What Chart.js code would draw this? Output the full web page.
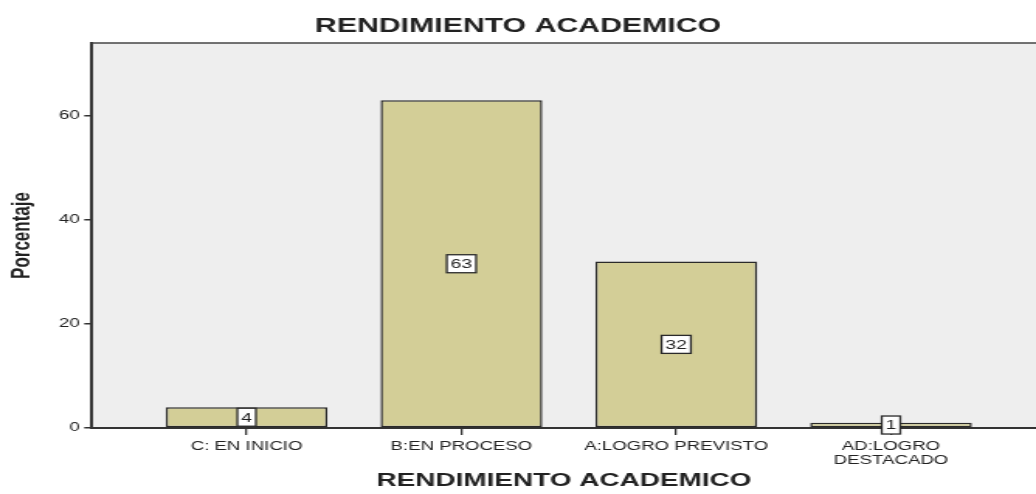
<!DOCTYPE html>
<html>
<head>
<meta charset="utf-8">
<script src="https://cdn.jsdelivr.net/npm/chart.js@4.4.1/dist/chart.umd.min.js"></script>
<style>
    html, body { margin: 0; padding: 0; background: #fff; overflow: hidden; }
    /* the original picture is stretched sideways, so draw narrow and stretch the canvas */
    #chart { display: block; transform: scaleX(1.5509); transform-origin: 0 0; }
</style>
</head>
<body>
<canvas id="chart" width="668" height="494"></canvas>
<script>
// Data
const categories = ['C: EN INICIO', 'B:EN PROCESO', 'A:LOGRO PREVISTO', 'AD:LOGRO DESTACADO'];
const tickLabels = ['C: EN INICIO', 'B:EN PROCESO', 'A:LOGRO PREVISTO', ['AD:LOGRO', 'DESTACADO']];
const percentages = [4, 63, 32, 1];
const yTicks = [0, 20, 40, 60];

const FONT = "'Liberation Sans', Arial, sans-serif";
const INK = '#222';

// Grey plot background and the top frame line
const plotFrame = {
    id: 'plotFrame',
    beforeDraw(chart) {
        const { ctx, chartArea: a } = chart;
        ctx.save();
        ctx.fillStyle = '#eeeeee';
        ctx.fillRect(a.left, a.top, a.right - a.left, a.bottom - a.top);
        ctx.restore();
    },
    afterDraw(chart) {
        const { ctx, chartArea: a } = chart;
        ctx.save();
        ctx.strokeStyle = '#444';
        ctx.lineWidth = 1.6;
        ctx.beginPath();
        ctx.moveTo(a.left, a.top);
        ctx.lineTo(a.right, a.top);
        ctx.stroke();
        ctx.restore();
    }
};

// White boxed value labels in the middle of each bar
const boxLabels = {
    id: 'boxLabels',
    afterDatasetsDraw(chart) {
        const { ctx } = chart;
        const meta = chart.getDatasetMeta(0);
        ctx.save();
        ctx.font = '12.5px ' + FONT;
        ctx.textAlign = 'center';
        ctx.textBaseline = 'middle';
        meta.data.forEach((bar, i) => {
            const text = String(percentages[i]);
            const w = ctx.measureText(text).width + 5;
            const h = 18;
            const cx = bar.x;
            const cy = (bar.y + bar.base) / 2;
            ctx.fillStyle = '#fff';
            ctx.fillRect(cx - w / 2, cy - h / 2, w, h);
            ctx.strokeStyle = '#2a2a2a';
            ctx.lineWidth = 1.3;
            ctx.strokeRect(cx - w / 2, cy - h / 2, w, h);
            ctx.fillStyle = INK;
            ctx.fillText(text, cx, cy + 1);
        });
        ctx.restore();
    }
};

const ctx = document.getElementById('chart').getContext('2d');

new Chart(ctx, {
    type: 'bar',
    data: {
        datasets: [{
            label: 'Porcentaje',
            data: percentages.map((v, i) => ({ x: i + 1, y: v })),
            backgroundColor: '#d3ce97',
            borderColor: '#2a2a2a',
            borderWidth: 1.5,
            borderSkipped: false,
            categoryPercentage: 1,
            barPercentage: 0.753
        }]
    },
    options: {
        responsive: false,
        animation: false,
        layout: { padding: 0 },
        plugins: {
            legend: { display: false },
            tooltip: { enabled: false },
            title: {
                display: true,
                text: 'RENDIMIENTO ACADEMICO',
                color: INK,
                font: { family: FONT, size: 19.5, weight: 'bold' },
                padding: { top: 15, bottom: 4.6 }
            }
        },
        scales: {
            x: {
                type: 'linear',
                bounds: 'data',
                offset: false,
                min: 0.28,
                max: 4.675,
                afterBuildTicks(axis) {
                    axis.ticks = categories.map((c, i) => ({ value: i + 1 }));
                },
                afterFit(axis) { axis.height = 66; },
                grid: {
                    offset: false,
                    drawOnChartArea: false,
                    drawTicks: true,
                    tickLength: 7,
                    color: '#333',
                    lineWidth: 1.3
                },
                border: { display: true, color: '#333', width: 2 },
                ticks: {
                    padding: 4,
                    color: INK,
                    maxRotation: 0,
                    autoSkip: false,
                    font: { family: FONT, size: 12 },
                    callback: value => tickLabels[Math.round(value) - 1]
                },
                title: {
                    display: true,
                    text: 'RENDIMIENTO ACADEMICO',
                    color: INK,
                    font: { family: FONT, size: 18, weight: 'bold' },
                    padding: { top: 0, bottom: 2 }
                }
            },
            y: {
                min: 0,
                max: 74,
                afterBuildTicks(axis) {
                    axis.ticks = yTicks.map(v => ({ value: v }));
                },
                afterFit(axis) { axis.width = 59.3; },
                grid: {
                    drawOnChartArea: false,
                    drawTicks: true,
                    tickLength: 5,
                    color: '#333',
                    lineWidth: 1.5
                },
                border: { display: true, color: '#333', width: 2 },
                ticks: {
                    padding: 3,
                    color: INK,
                    font: { family: FONT, size: 12 }
                },
                title: {
                    display: true,
                    text: 'Porcentaje',
                    color: INK,
                    font: { family: FONT, size: 17, weight: 'bold' },
                    padding: { top: 4, bottom: 0 }
                }
            }
        }
    },
    plugins: [plotFrame, boxLabels]
});
</script>
</body>
</html>
